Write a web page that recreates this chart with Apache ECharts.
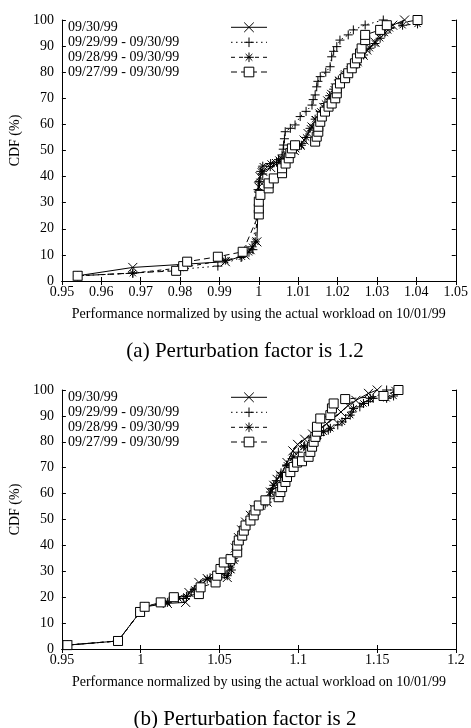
<!DOCTYPE html>
<html><head><meta charset="utf-8">
<script src="https://cdn.jsdelivr.net/npm/echarts@6/dist/echarts.min.js"></script>
<style>html,body{margin:0;padding:0;background:#fff}#c{width:471px;height:728px}</style>
</head><body><div id="c"></div>
<script>
// ---------- data ----------
const seriesNames = ['09/30/99', '09/29/99 - 09/30/99', '09/28/99 - 09/30/99', '09/27/99 - 09/30/99'];
const titleA = '(a) Perturbation factor is 1.2';
const titleB = '(b) Perturbation factor is 2';
const xName = 'Performance normalized by using the actual workload on 10/01/99';
const yName = 'CDF (%)';

// Chart (a) -- perturbation factor 1.2
const aCrossX = [0.954,0.968,0.9915,0.9965,0.9978,0.9995,1.0,1.0003,1.001,1.003,1.0045,1.006,1.0075,1.009,1.0105,1.0115,1.0125,1.0135,1.0145,1.0155,1.0165,1.0175,1.0185,1.0195,1.0205,1.022,1.0235,1.025,1.0265,1.0274,1.0295,1.0312,1.0325,1.034,1.037];
const aCrossY = [2,5.2,7.4,10,12,15,36,40,42,43.5,45,46.5,48,50,52,54,56.5,59,61.5,64,66.5,69,71.5,74,76.5,79,81.5,84,86.5,88.5,91.5,95.6,96.5,98,100];
const aPlusX = [0.954,0.968,0.9896,0.9955,0.9985,0.9998,1.0,1.001,1.0029,1.0045,1.0059,1.0062,1.0063,1.0065,1.0067,1.008,1.0092,1.0105,1.012,1.0135,1.0138,1.0143,1.0147,1.015,1.0156,1.017,1.0181,1.0185,1.019,1.0198,1.0206,1.0227,1.024,1.027,1.0316];
const aPlusY = [2,3,5.7,9,12,35,38,41,43.8,45.5,48.3,50.5,52.1,54.5,57.2,58.5,59.8,63,65,67.4,69.5,71.3,74.4,76.5,78.3,80,82.1,85.9,88,89.8,92.3,94.3,96.2,98.1,100];
const aStarX = [0.954,0.968,0.98,0.9915,0.9957,0.9975,0.9983,0.9991,1.0,1.0002,1.0005,1.001,1.003,1.005,1.0065,1.008,1.0095,1.0108,1.012,1.013,1.0143,1.0156,1.0168,1.018,1.019,1.0202,1.0215,1.023,1.0249,1.0266,1.0282,1.0295,1.0308,1.032,1.0333,1.0365,1.0403];
const aStarY = [2,3,5,8,9.3,11,13.1,15,34,38,42,44,45,46.5,47.5,49,50.5,52,55,58.5,62,65,68,71,73.5,77,79,81,83,86.6,89.2,91,93,95,96.8,98,98.5];
const aSquareX = [0.954,0.979,0.9808,0.9818,0.9896,0.9959,1.0,1.0,1.0,1.0004,1.0025,1.0025,1.0038,1.0059,1.0059,1.0068,1.0076,1.008,1.0084,1.0092,1.0143,1.0147,1.0151,1.0151,1.0156,1.016,1.0168,1.0177,1.0185,1.0194,1.0198,1.0198,1.0206,1.0219,1.0227,1.0236,1.0244,1.0249,1.0257,1.0261,1.027,1.027,1.0308,1.0325,1.0403];
const aSquareY = [2,3.9,5.7,7.4,9.3,11.2,25.5,27.8,30.4,33,35.5,37.4,39.3,41.3,43.2,45,47,49,50.8,52,53.4,55.3,57.2,59.1,61,63,64.9,66.8,68,70,71.9,73.8,75.7,77.7,79.6,81.5,83.4,85.3,87.2,89.1,92.3,94.3,96.2,98,100];

// Chart (b) -- perturbation factor 2
const bCrossX = [0.9535,0.9856,0.9996,1.0025,1.0169,1.0285,1.0306,1.0369,1.0422,1.0549,1.0565,1.058,1.06,1.062,1.064,1.0665,1.0696,1.072,1.076,1.0802,1.0823,1.0844,1.0865,1.0886,1.0928,1.0965,1.0995,1.104,1.109,1.114,1.118,1.122,1.127,1.1315,1.1365,1.1445,1.15];
const bCrossY = [1.5,3.1,14.3,16.3,17.6,18,21.8,25.7,27.2,27.6,31,35,39,43,46,49,51.6,54,55.5,56.7,60.6,63.2,65.5,67.1,72,76.5,79,81,83,85,87,89,91.5,94,96,98.7,100];
const bPlusX = [0.9535,0.9856,0.9996,1.0025,1.018,1.027,1.032,1.038,1.044,1.053,1.056,1.0585,1.0605,1.0625,1.065,1.068,1.0705,1.0745,1.079,1.0815,1.0835,1.086,1.089,1.0925,1.096,1.1,1.104,1.109,1.114,1.119,1.125,1.13,1.134,1.139,1.1445,1.1475,1.156];
const bPlusY = [1.5,3.1,14.3,16.3,18.5,19.5,22,25,27.5,29,32,35,38.5,42,45.5,49,52,54.5,56,59,62,65,68,71,73.5,76,78.5,80.5,82.5,84.5,86.5,89,91.5,93.5,95.5,96.8,100];
const bStarX = [0.9535,0.9856,0.9996,1.0025,1.0169,1.024,1.029,1.034,1.038,1.0422,1.0475,1.0549,1.0575,1.0595,1.061,1.0635,1.066,1.069,1.0739,1.0802,1.0823,1.0844,1.0886,1.0928,1.097,1.1034,1.1118,1.116,1.1203,1.1277,1.1329,1.135,1.1413,1.1456,1.156,1.1604,1.161];
const bStarY = [1.5,3.1,14.3,16.3,18,19.5,20.3,23,24.4,27,27.5,28.3,30.5,34,38,42,46,50,54.1,56.7,60.6,63.2,67.1,70.9,74.2,78.1,81.3,83.9,85.2,87.7,90.3,92.9,94.8,96.8,96.8,97.7,100];
const bSquareX = [0.9535,0.9856,0.9996,1.0025,1.0127,1.021,1.0369,1.038,1.0475,1.0485,1.0506,1.0527,1.057,1.0612,1.0612,1.0622,1.0644,1.0654,1.0665,1.0696,1.0717,1.0728,1.0749,1.0791,1.0875,1.0886,1.0897,1.0918,1.0928,1.0949,1.097,1.0992,1.1023,1.1065,1.1076,1.1087,1.1097,1.1108,1.1118,1.1118,1.1139,1.1203,1.1213,1.1224,1.1297,1.154,1.1635];
const bSquareY = [1.5,3.1,14.3,16.3,18,20,21.2,23.8,25.7,28.3,30.9,33.4,34.7,37.3,39.9,41.9,43.8,45.7,47.7,49.6,51.6,53.5,55.4,57.4,58.6,60.6,62.5,64.5,66.4,68.3,70.3,72,72.5,74.2,76.1,78.1,80,81.9,83.9,85.8,89,90.3,92.9,94.8,96.5,97.7,100];

// ---------- styling ----------
const FONT = '"Liberation Serif", "DejaVu Serif", serif';
const symCross = 'path://M0,0L10,10M10,0L0,10';
const symPlus = 'path://M5,0L5,10M0,5L10,5';
const symStar = 'path://M5,0L5,10M0,5L10,5M1.5,1.5L8.5,8.5M8.5,1.5L1.5,8.5';
const styles = [
  {symbol: symCross, dash: 'solid', size: 9, fill: 'none'},
  {symbol: symPlus, dash: [1.5, 3.5], size: 9, fill: 'none'},
  {symbol: symStar, dash: [4, 4], size: 9, fill: 'none'},
  {symbol: 'rect', dash: [6, 4], size: 9, fill: '#fff'}
];
const zip = (xs, ys) => xs.map((x, i) => [x, ys[i]]);

function mkSeries(gi, idx, xs, ys) {
  const s = styles[idx];
  return {
    type: 'line', name: seriesNames[idx],
    xAxisIndex: gi * 2, yAxisIndex: gi * 2,
    data: zip(xs, ys),
    symbol: s.symbol, symbolSize: s.size, showAllSymbol: true,
    animation: false, z: 3 + idx,
    lineStyle: {color: '#000', width: 1, type: s.dash},
    itemStyle: {color: s.fill, borderColor: '#000', borderWidth: 1},
    emphasis: {disabled: true}
  };
}

const grids = [
  {left: 61, top: 20, width: 395, height: 261},
  {left: 61, top: 390, width: 395, height: 259}
];
const xRanges = [{min: 0.95, max: 1.05, interval: 0.01}, {min: 0.95, max: 1.2, interval: 0.05}];

const axisLine = {show: true, lineStyle: {color: '#000', width: 1}};
const tick = {show: true, inside: true, length: 4, lineStyle: {color: '#000'}};
const xAxes = [], yAxes = [];
grids.forEach((g, gi) => {
  const r = xRanges[gi];
  xAxes.push({type: 'value', gridIndex: gi, position: 'bottom', min: r.min, max: r.max, interval: r.interval,
    axisLine, axisTick: tick, splitLine: {show: false},
    axisLabel: {color: '#000', fontFamily: FONT, fontSize: 14, margin: 4,
      formatter: v => String(+v.toFixed(2))},
    name: xName, nameLocation: 'middle', nameGap: 26,
    nameTextStyle: {color: '#000', fontFamily: FONT, fontSize: 14}});
  xAxes.push({type: 'value', gridIndex: gi, position: 'top', min: r.min, max: r.max, interval: r.interval,
    axisLine, axisTick: tick, splitLine: {show: false}, axisLabel: {show: false}});
  yAxes.push({type: 'value', gridIndex: gi, position: 'left', min: 0, max: 100, interval: 10,
    axisLine, axisTick: tick, splitLine: {show: false},
    axisLabel: {color: '#000', fontFamily: FONT, fontSize: 14, margin: 8},
    name: yName, nameLocation: 'middle', nameGap: 34, nameRotate: 90,
    nameTextStyle: {color: '#000', fontFamily: FONT, fontSize: 14, padding: [0, 0, 0, 20]}});
  yAxes.push({type: 'value', gridIndex: gi, position: 'right', min: 0, max: 100, interval: 10,
    axisLine, axisTick: tick, splitLine: {show: false}, axisLabel: {show: false}});
});

const series = [
  mkSeries(0, 0, aCrossX, aCrossY), mkSeries(0, 1, aPlusX, aPlusY),
  mkSeries(0, 2, aStarX, aStarY), mkSeries(0, 3, aSquareX, aSquareY),
  mkSeries(1, 0, bCrossX, bCrossY), mkSeries(1, 1, bPlusX, bPlusY),
  mkSeries(1, 2, bStarX, bStarY), mkSeries(1, 3, bSquareX, bSquareY)
];

function mkLegend(top) {
  return {
    data: seriesNames, left: 68, top: top, orient: 'vertical', align: 'right',
    itemWidth: 36, itemHeight: 12, itemGap: 0.4, padding: 0, selectedMode: false,
    lineStyle: {width: 1},
    itemStyle: {borderWidth: 1},
    formatter: n => '{a|' + n + '}',
    textStyle: {color: '#000', fontFamily: FONT, fontSize: 14,
      rich: {a: {width: 158, lineHeight: 14, align: 'left', fontFamily: FONT, fontSize: 14, color: '#000'}}}
  };
}

const chart = echarts.init(document.getElementById('c'), null, {renderer: 'canvas'});
chart.setOption({
  animation: false,
  backgroundColor: '#fff',
  title: [
    {text: titleA, left: 240, top: 336, textAlign: 'center',
      textStyle: {fontFamily: FONT, fontSize: 21, fontWeight: 'normal', color: '#000'}},
    {text: titleB, left: 240, top: 704, textAlign: 'center',
      textStyle: {fontFamily: FONT, fontSize: 21, fontWeight: 'normal', color: '#000'}}
  ],
  legend: [mkLegend(20), mkLegend(390)],
  grid: grids,
  xAxis: xAxes,
  yAxis: yAxes,
  series: series
});
</script>
</body></html>
